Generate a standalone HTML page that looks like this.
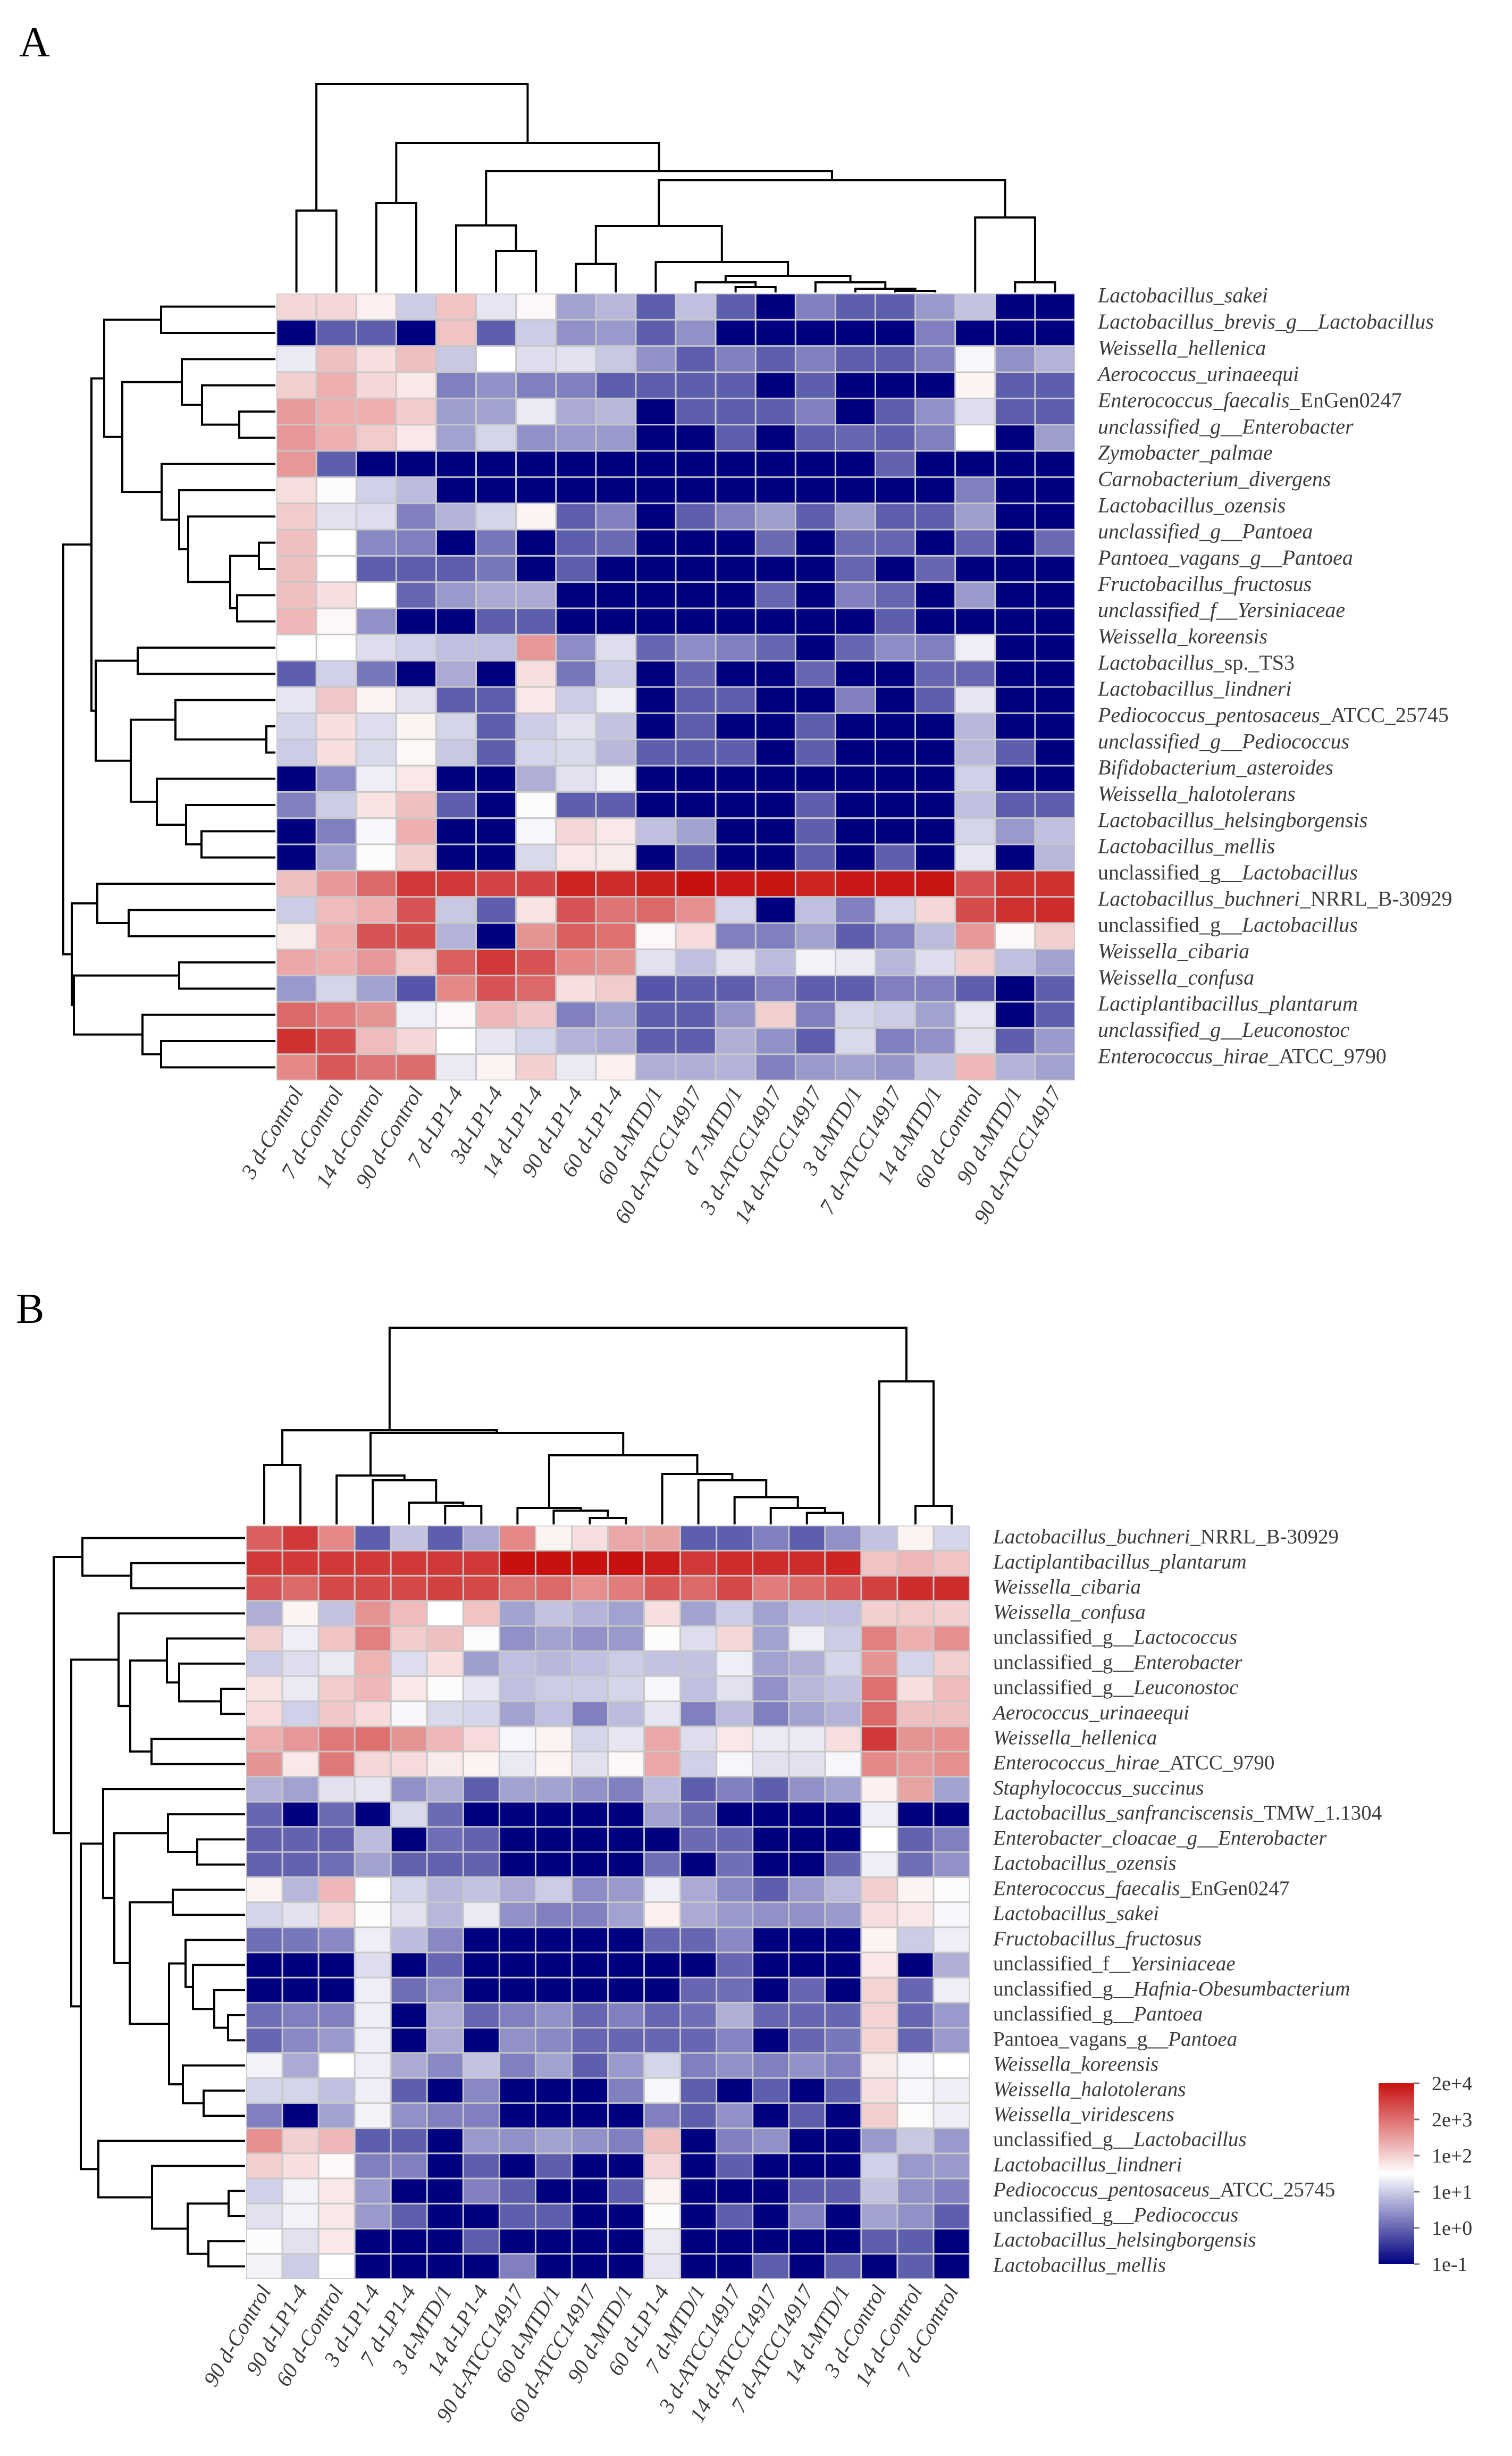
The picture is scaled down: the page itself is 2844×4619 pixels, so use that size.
<!DOCTYPE html>
<html>
<head>
<meta charset="utf-8">
<style>
html,body{margin:0;padding:0;background:#fff;}
svg{display:block;}
text{font-family:"Liberation Serif",serif;}
</style>
</head>
<body>
<svg id="fig" width="2844" height="4619" viewBox="0 0 2844 4619" xmlns="http://www.w3.org/2000/svg">
<rect x="0" y="0" width="2844" height="4619" fill="#fff"/>
<text x="36" y="106" font-size="80" fill="#000">A</text>
<text x="30" y="2488" font-size="80" fill="#000">B</text>
<g id="legend"></g>
</svg>
<script>
// ---------- Panel A data ----------
const colsA = ["3 d-Control","7 d-Control","14 d-Control","90 d-Control","7 d-LP1-4","3d-LP1-4","14 d-LP1-4","90 d-LP1-4","60 d-LP1-4","60 d-MTD/1","60 d-ATCC14917","d 7-MTD/1","3 d-ATCC14917","14 d-ATCC14917","3 d-MTD/1","7 d-ATCC14917","14 d-MTD/1","60 d-Control","90 d-MTD/1","90 d-ATCC14917"];
const rowsA = ["Lactobacillus_sakei","Lactobacillus_brevis_g__Lactobacillus","Weissella_hellenica","Aerococcus_urinaeequi","Enterococcus_faecalis_[EnGen0247]","unclassified_g__Enterobacter","Zymobacter_palmae","Carnobacterium_divergens","Lactobacillus_ozensis","unclassified_g__Pantoea","Pantoea_vagans_g__Pantoea","Fructobacillus_fructosus","unclassified_f__Yersiniaceae","Weissella_koreensis","Lactobacillus_[sp._TS3]","Lactobacillus_lindneri","Pediococcus_pentosaceus_[ATCC_25745]","unclassified_g__Pediococcus","Bifidobacterium_asteroides","Weissella_halotolerans","Lactobacillus_helsingborgensis","Lactobacillus_mellis","[unclassified_g__]Lactobacillus","Lactobacillus_buchneri_[NRRL_B-30929]","[unclassified_g__]Lactobacillus","Weissella_cibaria","Weissella_confusa","Lactiplantibacillus_plantarum","unclassified_g__Leuconostoc","Enterococcus_hirae_[ATCC_9790]"];
const valsA = [
[7,7,6.4,4.8,7.5,5.4,6.2,3.8,4.3,2.2,4.5,2.2,0,3,2.2,2.2,3.6,4.6,0,0],
[0,2.2,2.2,0,7.5,2.2,4.8,3.4,3.6,2.2,3.4,0,0,0,0,0,3,0,0,0],
[5.5,7.6,6.8,7.6,4.7,6,5.2,5.3,4.7,3.4,2.2,3,2.2,3,2.2,2.2,3,5.8,3.4,4.2],
[7.2,8,7,6.6,3,3.4,3,3,2.2,2.2,2.2,2.2,0,2.2,0,0,0,6.3,2.2,2.2],
[8.5,8,8,7.3,3.7,3.8,5.5,4,4.3,0,2.2,2.2,2.2,3,0,2.2,3.4,5.2,2.2,2.2],
[8.6,8,7.3,6.6,3.8,5,3.4,3.6,3.6,0,0,2.2,0,2.2,2.4,2.2,3,6,0,3.7],
[8.6,2.2,0,0,0,0,0,0,0,0,0,0,0,0,0,2.3,0,0,0,0],
[6.8,6.1,4.9,4.4,0,0,0,0,0,0,0,0,0,0,0,0,0,3,0,0],
[7.3,5.3,5.2,3,4.2,5,6.3,2.2,3,0,2.2,3,3.7,2.2,3.7,2.2,2.2,3.7,0,0],
[7.6,6,3.2,3,0,2.8,0,2.2,2.5,0,0,0,2.5,0,2.5,2.4,0,2.4,0,2.5],
[7.6,6,2.2,2.2,2.2,2.8,0,2.2,0,0,0,0,0,0,2.4,0,2.4,0,0,0],
[7.6,6.8,6,2.4,3.6,4,4,0,0,0,0,0,2.4,0,3,2.4,0,3.6,0,0],
[7.8,6.2,3.4,0,0,2.2,2.2,0,0,0,0,0,0,0,0,2.2,0,0,0,0],
[6,6,5.2,4.9,4.5,4.5,8.6,3.3,5.2,2.4,3.3,3,2.4,0,2.4,3.3,3,5.6,0,0],
[2.2,4.9,2.8,0,4,0,6.8,2.8,4.8,0,2.4,0,0,2.4,0,0,2.4,2.4,0,0],
[5.4,7.4,6.3,5.3,2.2,2.2,6.6,4.8,5.6,0,2.2,2.2,0,0,3,0,2.2,5.4,0,0],
[5,6.8,5.2,6.3,5,2.2,4.8,5.3,4.6,0,2.2,0,0,2.2,0,0,0,4.3,0,0],
[4.8,6.8,5.1,6.2,4.7,2.2,5,5.1,4.3,2.2,2.2,2.2,0,2.2,0,0,0,4.3,2.2,0],
[0,3.3,5.6,6.6,0,0,4.1,5.3,5.7,0,0,0,0,0,0,0,0,4.9,0,0],
[3,4.8,6.7,7.6,2.2,0,6.1,2.2,2.2,0,0,0,0,2.2,0,0,0,4.5,2.2,2.2],
[0,3,5.8,8,0,0,5.8,7,6.6,4.5,3.8,0,0,2.2,0,0,0,5,3.6,4.5],
[0,3.8,6.1,7.2,0,0,5.1,6.6,6.5,0,2.2,0,0,2.2,0,2.2,0,5.4,0,4.3],
[7.6,8.6,9.8,11,11,10.7,10.7,11.5,11.3,11.6,12,11.8,11.9,11.5,11.8,11.8,11.9,10.3,11.2,11.2],
[4.8,7.7,8,10.3,4.7,2.2,6.7,10.3,9.5,9.8,8.8,5,0,4.5,3,5,7,10.5,11.2,11.3],
[6.5,8,10.3,10.5,4.2,0,8.7,10,9.6,6.2,6.9,3,3,3.8,2.2,3,4.4,8.6,6.2,7.2],
[8.2,8,8.6,7.3,10,11,10.3,9,8.7,5.3,4.5,5.3,4.4,5.7,5.5,4.3,5.2,7.2,4.5,3.8],
[3.6,5,3.8,2,9,10.3,9.8,6.8,7.3,2,2.2,2.2,3,2.2,2.2,3,3,2.2,0,2.2],
[9.8,9.3,8.7,5.6,6.2,7.8,7.4,3,3.8,2.2,2.2,3.5,7.2,3,5,4.8,3.8,5.4,0,2.2],
[11.2,10.5,7.7,7,6,5.4,5,4.2,4,2.2,2.2,4.1,3.4,2.2,5.1,3,3.4,5.3,2.2,3.6],
[9,10.2,9.5,9.7,5.5,6.3,7.2,5.5,6.4,4.1,4.1,4.2,3,3.6,3.8,3.5,4.6,7.8,4.2,3.8]
];
// merges: [childA, childB, height]; leaves 0..n-1, internal nodes n+k
const colTreeA = [[0,1,154],[2,3,168],[5,6,78],[4,22,126],[7,8,54],[11,12,10],[10,25,19],[15,16,3],[14,27,7],[13,28,19],[26,29,31],[9,30,57],[24,31,125],[18,19,19],[17,33,141],[32,34,211],[23,35,228],[21,36,281],[20,37,392]];
const rowTreeA = [[0,1,215],[4,5,68],[3,31,138],[2,32,176],[9,10,31],[11,12,72],[34,35,85],[8,36,164],[7,37,181],[6,38,214],[33,39,288],[30,40,322],[13,14,259],[16,17,17],[15,43,188],[20,21,139],[19,45,168],[18,46,223],[44,47,272],[42,48,338],[41,49,346],[23,24,276],[22,51,335],[25,26,181],[28,29,215],[27,54,250],[53,55,379],[52,56,383],[50,57,399]];

// ---------- Panel B data ----------
const colsB = ["90 d-Control","90 d-LP1-4","60 d-Control","3 d-LP1-4","7 d-LP1-4","3 d-MTD/1","14 d-LP1-4","90 d-ATCC14917","60 d-MTD/1","60 d-ATCC14917","90 d-MTD/1","60 d-LP1-4","7 d-MTD/1","3 d-ATCC14917","14 d-ATCC14917","7 d-ATCC14917","14 d-MTD/1","3 d-Control","14 d-Control","7 d-Control"];
const rowsB = ["Lactobacillus_buchneri_[NRRL_B-30929]","Lactiplantibacillus_plantarum","Weissella_cibaria","Weissella_confusa","[unclassified_g__]Lactococcus","[unclassified_g__]Enterobacter","[unclassified_g__]Leuconostoc","Aerococcus_urinaeequi","Weissella_hellenica","Enterococcus_hirae_[ATCC_9790]","Staphylococcus_succinus","Lactobacillus_sanfranciscensis_[TMW_1.1304]","Enterobacter_cloacae_g__Enterobacter","Lactobacillus_ozensis","Enterococcus_faecalis_[EnGen0247]","Lactobacillus_sakei","Fructobacillus_fructosus","[unclassified_f__]Yersiniaceae","[unclassified_g__]Hafnia-Obesumbacterium","[unclassified_g__]Pantoea","[Pantoea_vagans_g__]Pantoea","Weissella_koreensis","Weissella_halotolerans","Weissella_viridescens","[unclassified_g__]Lactobacillus","Lactobacillus_lindneri","Pediococcus_pentosaceus_[ATCC_25745]","[unclassified_g__]Pediococcus","Lactobacillus_helsingborgensis","Lactobacillus_mellis"];
const valsB = [
[10,11,9,2.2,4.6,2.2,4,9,6.3,6.8,8.2,8.3,2.2,2.2,3,2.2,3.4,4.6,6.3,5],
[11,11,11,11,11,11,11,12,12,12,12,11.7,11,11.3,11.3,11.3,11.5,7.5,7.8,7.5],
[10.3,9.8,10.6,10.6,10.6,10.8,10.6,9.6,9.8,8.8,9.3,10.2,9.8,10.6,9.3,9.8,10.2,10.8,11.3,11.3],
[4.1,6.3,4.6,8.7,7.7,6,7.5,3.8,4.6,4.2,3.8,6.8,3.8,4.8,3.8,4.5,4.5,7.2,7.3,7.2],
[7.2,5.6,7.5,9.2,7.3,7.6,5.9,3.4,3.8,3.4,3.6,6.1,5.2,7,3.8,5.6,4.8,9.2,8,8.8],
[4.8,5.2,5.5,7.9,5.2,6.8,3.7,4.5,4.3,4.5,4.8,4.6,4.6,5.6,3.8,4.1,5,8.7,5,7.2],
[6.7,5.5,7.3,7.8,6.6,6.1,5.4,4.5,4.8,4.8,5,5.8,4.5,5.3,3.4,4.3,4.6,9.6,6.8,7.7],
[6.9,4.9,7.4,6.9,5.8,5.1,5,3.8,4.5,3,4.4,5.4,3,4.4,3,3.8,4.2,9.8,7.6,7.6],
[8,8.6,9.4,9.6,8.7,7.8,6.9,5.8,6.3,5,5.4,8.2,5.2,6.6,5.5,5.5,6.8,11,8.7,8.8],
[8.7,6.6,9.4,7,6.9,6.5,6.3,5.5,6.3,5.3,6.2,8.2,4.9,5.8,5.3,5.3,5.8,9,8.5,8.8],
[4.2,3.8,5.3,5.4,3.4,4.1,2.2,3.8,3.8,3.4,3,4.4,2.2,3,2.2,3.4,3.8,6.4,8.3,3.8],
[2.4,0,2.5,0,5.1,2.5,0,0,0,0,0,3.8,2.5,0,0,0,0,5.6,0,0],
[2.3,2.3,2.3,4.4,0,2.6,2.3,0,0,0,0,0,2.5,2.4,0,0,0,6,2.3,3],
[2.3,2.3,2.6,3.8,2.3,2.3,2.3,0,0,0,0,2.6,0,2.6,0,0,2.4,5.6,2.6,3.4],
[6.3,4.3,7.8,6,5,4.3,4.6,4,4.8,3.3,3.6,5.6,4,3.2,2.2,3.6,4.4,7.2,6.3,6.1],
[5,5.3,7,6.1,5.3,4.3,5.5,3.4,3,3,3.8,6.4,4,3.6,3.4,3.4,3.6,6.8,6.6,5.8],
[2.6,2.8,3.2,5.6,4.4,3.2,0,0,0,0,0,2.4,2.4,3.2,0,0,0,6.3,4.8,5.6],
[0,0,0,5.2,0,2.4,0,0,0,0,0,0,0,2.4,0,0,0,6.6,0,4.1],
[0,0,0,5.6,2.6,3.4,0,0,0,0,0,0,2.4,2.6,0,2.4,0,7.1,2.4,5.6],
[2.6,3,3,5.6,0,4.1,2.4,3,3.4,2.4,3,2.4,2.6,4.1,2.4,2.4,2.4,7.1,2.4,3.6],
[2.4,3.2,3.6,5.6,0,4,0,3.4,3.2,2.4,2.4,2.4,2.4,3.1,0,2.4,2.8,7.1,2.4,3.6],
[5.7,4,6,5.6,4,3.2,4.6,3,3.8,2.2,3.6,5,3,3.4,3,3.4,3,6.5,5.8,6],
[5,5,4.5,5.6,2.2,0,3.2,0,0,0,3,5.8,2.2,0,2.2,0,2.2,6.8,5.8,5.6],
[3,0,3.8,5.7,3.4,3,3,0,0,0,0,3,2.2,3.4,0,2.2,0,7.2,6.1,5.6],
[8.8,7.2,7.8,2.2,2.2,0,3.6,3.4,3.8,3.4,3,7.6,0,3,3.4,0,0,3.6,4.7,3.6],
[7.2,6.8,6.2,3,3,0,2.2,0,2.2,0,0,7,0,2.2,0,0,0,4.9,3.6,3.6],
[4.9,5.7,6.6,3.6,0,0,3,2.2,0,0,2.2,6.3,0,0,0,2.2,2.2,4.6,3.4,3],
[5.3,5.7,6.6,3.6,2.2,0,0,2.2,2.2,0,0,6.1,0,2.2,0,3,0,3.8,3.4,2.2],
[6.1,5.3,6.6,0,0,0,2.2,0,0,0,0,5.5,0,0,0,0,0,2.2,2.2,0],
[5.7,4.8,6,0,0,0,0,3,0,0,0,5.4,0,0,2.2,0,2.2,0,2.2,0]
];
const colTreeB = [[0,1,112],[5,6,35],[4,21,41],[3,22,83],[2,23,92],[9,10,12],[8,25,26],[7,26,31],[15,16,22],[14,28,31],[13,29,51],[12,30,83],[11,31,95],[27,32,130],[24,33,172],[20,34,177],[18,19,35],[17,36,269],[35,37,370]];
const rowTreeB = [[1,2,214],[0,30,306],[6,7,45],[5,32,124],[4,33,147],[8,9,176],[34,35,216],[3,36,238],[12,13,90],[11,38,145],[14,15,136],[19,20,32],[18,41,58],[17,42,98],[16,43,112],[22,23,78],[21,45,117],[44,46,143],[40,47,217],[39,48,246],[10,49,267],[26,27,31],[28,29,69],[51,52,108],[25,53,175],[24,54,276],[50,55,309],[37,56,327],[31,57,360]];

const legendTicks = ["1e-1","1e+0","1e+1","1e+2","2e+3","2e+4"];

// ---------- drawing ----------
const NS = "http://www.w3.org/2000/svg";
const svg = document.getElementById("fig");
function mk(tag, attrs, parent){
  const e = document.createElementNS(NS, tag);
  for (const k in attrs) e.setAttribute(k, attrs[k]);
  (parent||svg).appendChild(e);
  return e;
}
function color(v){
  v = Math.max(0, Math.min(12, v));
  let r,g,b;
  if (v <= 6){ const t = v/6; r = 255*t; g = 255*t; b = 128 + 127*t; }
  else { const t = (v-6)/6; r = 255 - 55*t; g = 255 - 239*t; b = 255 - 239*t; }
  return "rgb(" + Math.round(r) + "," + Math.round(g) + "," + Math.round(b) + ")";
}
function addLabel(parent, str, x, y, size, anchor, transform){
  const t = mk("text", {x:x, y:y, "font-size":size, fill:"#3c3c3c", "text-anchor":anchor||"start"}, parent);
  if (transform) t.setAttribute("transform", transform);
  const parts = str.split(/(\[[^\]]*\])/);
  parts.forEach(p => {
    if (!p) return;
    const up = p[0] === "[";
    const s = mk("tspan", {"font-style": up ? "normal" : "italic"}, t);
    s.textContent = up ? p.slice(1,-1) : p;
  });
  return t;
}
function drawTree(parent, merges, n, leafPos, orient, base, name){
  const pos = leafPos.slice(); const hgt = new Array(n).fill(0);
  merges.forEach((m, k) => {
    const a = m[0], b = m[1], h = m[2];
    const id = n + k;
    pos[id] = (pos[a] + pos[b]) / 2; hgt[id] = h;
    let d;
    if (orient === "top"){
      const ya = base - hgt[a], yb = base - hgt[b], yh = base - h;
      d = "M" + pos[a] + "," + ya + "V" + yh + "H" + pos[b] + "V" + yb;
    } else {
      const xa = base - hgt[a], xb = base - hgt[b], xh = base - h;
      d = "M" + xa + "," + pos[a] + "H" + xh + "V" + pos[b] + "H" + xb;
    }
    const p = mk("path", {d:d, fill:"none", stroke:"#000", "stroke-width":4}, parent);
    
    
  });
}
function panel(cfg){
  const g = mk("g", {});
  
  
  const nr = cfg.rows.length, nc = cfg.cols.length;
  const cw = (cfg.x1 - cfg.x0) / nc, ch = (cfg.y1 - cfg.y0) / nr;
  const xAt = j => cfg.x0 + j*cw, yAt = i => cfg.y0 + i*ch;
  mk("rect", {x:cfg.x0, y:cfg.y0, width:cfg.x1-cfg.x0, height:cfg.y1-cfg.y0, fill:"#c8c8c8"}, g);
  for (let i=0;i<nr;i++) for (let j=0;j<nc;j++){
    const r = mk("rect", {x:xAt(j)+1.5, y:yAt(i)+1.5, width:cw-3, height:ch-3, fill:color(cfg.vals[i][j])}, g);
    
    
  }
  for (let i=0;i<nr;i++){
    const t = addLabel(g, cfg.rows[i], cfg.labelX, yAt(i)+ch/2+cfg.labelDy, cfg.rowFont);
    
    
  }
  for (let j=0;j<nc;j++){
    const cx = xAt(j)+cw/2+14, cy = cfg.y1+22;
    const t = addLabel(g, "[" + cfg.cols[j] + "]", cx, cy, 41, "end", "rotate(-60 " + cx + " " + cy + ")");
    t.firstChild.setAttribute("font-style","italic");
    
    
  }
  const colLeaves = cfg.cols.map((_, j) => xAt(j)+cw/2);
  const rowLeaves = cfg.rows.map((_, i) => yAt(i)+ch/2);
  drawTree(g, cfg.colTree, nc, colLeaves, "top", cfg.y0-2, "column-dendrogram");
  drawTree(g, cfg.rowTree, nr, rowLeaves, "left", cfg.x0-2, "row-dendrogram");
}
panel({name:"heatmap-a", rows:rowsA, cols:colsA, vals:valsA, colTree:colTreeA, rowTree:rowTreeA,
  x0:520, x1:2022, y0:552, y1:2032, labelX:2065, labelDy:-8, rowFont:40});
panel({name:"heatmap-b", rows:rowsB, cols:colsB, vals:valsB, colTree:colTreeB, rowTree:rowTreeB,
  x0:463, x1:1824, y0:2869, y1:4286, labelX:1868, labelDy:10, rowFont:39});

// legend
const lg = document.getElementById("legend");
const defs = mk("defs", {}, lg);
const grad = mk("linearGradient", {id:"lgrad", x1:"0", y1:"1", x2:"0", y2:"0"}, defs);
for (let k=0;k<=12;k++) mk("stop", {offset:(k/12), "stop-color":color(k)}, grad);
const lx = 2593, ly0 = 3918, ly1 = 4258;
const bar = mk("rect", {x:lx, y:ly0, width:67, height:ly1-ly0, fill:"url(#lgrad)"}, lg);


legendTicks.forEach((lab, k) => {
  const y = ly1 - k*(ly1-ly0)/(legendTicks.length-1);
  mk("line", {x1:lx+67, x2:lx+77, y1:y, y2:y, stroke:"#777", "stroke-width":3}, lg);
  const t = mk("text", {x:lx+100, y:y+13, "font-size":38, fill:"#333"}, lg);
  t.textContent = lab;
  
  
});
</script>
</body>
</html>
